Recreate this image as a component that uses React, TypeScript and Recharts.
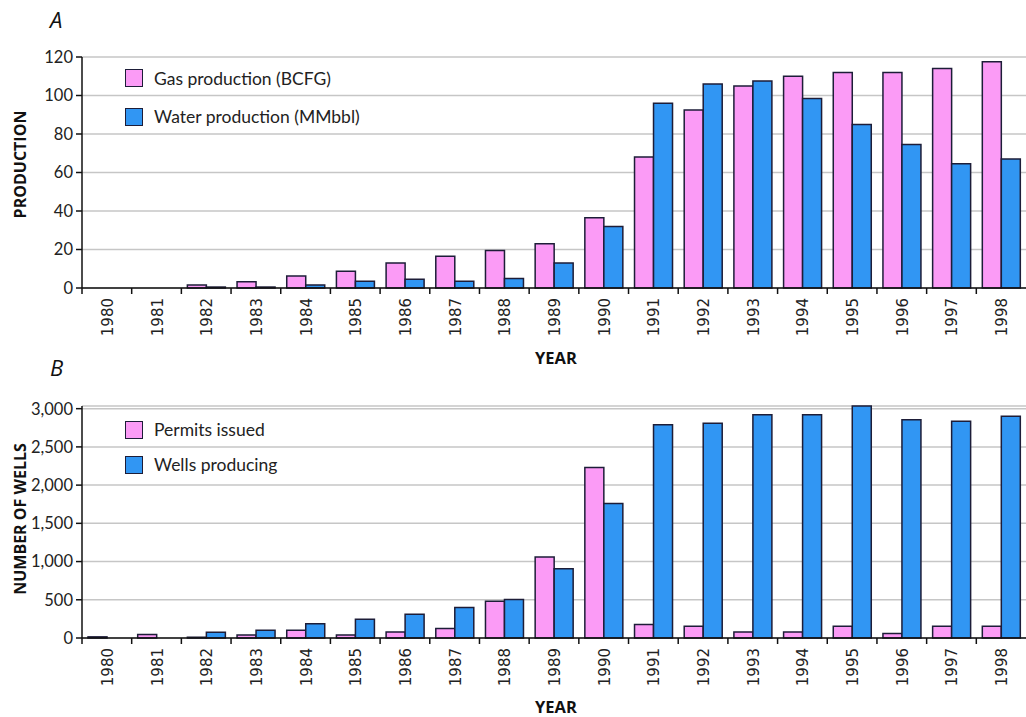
import { BarChart, Bar, XAxis, YAxis, CartesianGrid, Legend } from "recharts";

const years = [
  "1980", "1981", "1982", "1983", "1984", "1985", "1986", "1987", "1988", "1989",
  "1990", "1991", "1992", "1993", "1994", "1995", "1996", "1997", "1998",
];

// Panel A
const gasProduction = [0, 0, 1.5, 3.3, 6.2, 8.7, 13, 16.5, 19.5, 23, 36.5, 68, 92.5, 105, 110, 112, 112, 114, 117.5];
const waterProduction = [0, 0, 0.5, 0.5, 1.6, 3.5, 4.5, 3.5, 5, 13, 32, 96, 106, 107.5, 98.5, 85, 74.5, 64.5, 67];
const productionTicks = [0, 20, 40, 60, 80, 100, 120];

// Panel B
const permitsIssued = [15, 45, 10, 40, 100, 40, 80, 125, 480, 1060, 2230, 175, 155, 80, 80, 155, 60, 155, 155];
const wellsProducing = [0, 0, 75, 100, 185, 245, 310, 400, 505, 905, 1760, 2790, 2810, 2920, 2920, 3035, 2855, 2835, 2900];
const wellTicks = [0, 500, 1000, 1500, 2000, 2500, 3000];

const productionData = years.map((year, i) => ({ year, gas: gasProduction[i], water: waterProduction[i] }));
const wellData = years.map((year, i) => ({ year, permits: permitsIssued[i], wells: wellsProducing[i] }));

const W = 1026;
const PLOT_LEFT = 82;
const BAND = (W - PLOT_LEFT) / years.length;
const PINK = "#fb9bf6";
const BLUE = "#3196f3";
const EDGE = "#1d1d38";
const SANS = "Lato, 'Open Sans', sans-serif";

const YearTick = ({ x, y, payload }: any) => (
  <g>
    <line x1={x - BAND / 2} x2={x - BAND / 2} y1={y} y2={y + 6} stroke="#111" strokeWidth={1.5} />
    <text
      x={x + 1}
      y={y + 10}
      transform={`rotate(-90 ${x + 1} ${y + 10})`}
      textAnchor="end"
      dominantBaseline="central"
      fontFamily="'DejaVu Sans', sans-serif"
      fontSize={15}
      fill="#222"
    >
      {payload.value}
    </text>
  </g>
);

const yTitle = (text: string, shift: number) => ({ viewBox }: any) => {
  const cx = 20;
  const cy = viewBox.y + viewBox.height / 2 + shift;
  return (
    <text
      x={cx}
      y={cy}
      transform={`rotate(-90 ${cx} ${cy})`}
      textAnchor="middle"
      dominantBaseline="central"
      fontFamily="'Open Sans', sans-serif"
      fontWeight={700}
      fontSize={16}
      fill="#111"
    >
      {text}
    </text>
  );
};

const xTitle = (dy: number) => ({ viewBox }: any) => (
  <text
    x={556}
    y={viewBox.y + dy}
    textAnchor="middle"
    dominantBaseline="central"
    fontFamily="'Open Sans', sans-serif"
    fontWeight={700}
    fontSize={16.5}
    fill="#111"
  >
    YEAR
  </text>
);

const legendContent = (rowHeight: number) => ({ payload }: any) => (
  <div>
    {(payload || []).map((entry: any) => (
      <div key={entry.value} style={{ display: "flex", alignItems: "center", height: rowHeight }}>
        <span
          style={{
            width: 16,
            height: 16,
            background: entry.color,
            border: `1.5px solid ${EDGE}`,
            display: "inline-block",
          }}
        />
        <span style={{ marginLeft: 11, fontFamily: SANS, fontSize: 17.5, color: "#222", whiteSpace: "nowrap" }}>
          {entry.value}
        </span>
      </div>
    ))}
  </div>
);

const yTickStyle = { fontFamily: SANS, fontSize: 16.5, fill: "#222" };

const Panel = ({ letter, top }: { letter: string; top: number }) => (
  <div
    style={{
      position: "absolute",
      left: 50,
      top,
      fontFamily: "'Open Sans', sans-serif",
      fontStyle: "italic",
      fontSize: 22,
      color: "#111",
    }}
  >
    {letter}
  </div>
);

export default function App() {
  return (
    <div style={{ position: "absolute", left: 0, top: 0, width: W, height: 717, overflow: "hidden", background: "#fff" }}>
      <Panel letter="A" top={4} />
      <Panel letter="B" top={352} />

      {/* A: production */}
      <div style={{ position: "absolute", left: 0, top: 0 }}>
        <BarChart width={W} height={370} data={productionData} margin={{ top: 57, right: 0, left: 22, bottom: 0 }} barGap={0} barSize={19}>
          <CartesianGrid vertical={false} stroke="#c6c6c6" strokeWidth={1.5} />
          <XAxis
            dataKey="year"
            interval={0}
            height={82}
            tickLine={false}
            tickSize={0}
            tickMargin={0}
            axisLine={{ stroke: "#111", strokeWidth: 1.5 }}
            tick={<YearTick />}
            label={{ value: "YEAR", content: xTitle(69) }}
          />
          <YAxis
            width={60}
            domain={[0, 120]}
            ticks={productionTicks}
            interval={0}
            tickSize={6}
            tickMargin={3}
            tick={yTickStyle}
            tickLine={{ stroke: "#111", strokeWidth: 1.5 }}
            axisLine={{ stroke: "#111", strokeWidth: 1.5 }}
            label={{ value: "PRODUCTION", content: yTitle("PRODUCTION", -8) }}
          />
          <Legend
            layout="vertical"
            align="center"
            verticalAlign="middle"
            wrapperStyle={{ left: 125, top: 59, width: "auto" }}
            content={legendContent(38.5)}
          />
          <Bar dataKey="gas" name="Gas production (BCFG)" fill={PINK} stroke={EDGE} strokeWidth={1.5} isAnimationActive={false} />
          <Bar dataKey="water" name="Water production (MMbbl)" fill={BLUE} stroke={EDGE} strokeWidth={1.5} isAnimationActive={false} />
        </BarChart>
      </div>

      {/* B: wells */}
      <div style={{ position: "absolute", left: 0, top: 370 }}>
        <BarChart width={W} height={347} data={wellData} margin={{ top: 36, right: 0, left: 22, bottom: 0 }} barGap={0} barSize={19}>
          <CartesianGrid vertical={false} stroke="#c6c6c6" strokeWidth={1.5} />
          <XAxis
            dataKey="year"
            interval={0}
            height={79}
            tickLine={false}
            tickSize={0}
            tickMargin={0}
            axisLine={{ stroke: "#111", strokeWidth: 1.5 }}
            tick={<YearTick />}
            label={{ value: "YEAR", content: xTitle(68) }}
          />
          <YAxis
            width={60}
            domain={[0, 3000]}
            ticks={wellTicks}
            interval={0}
            tickSize={6}
            tickMargin={3}
            tick={yTickStyle}
            tickFormatter={(v: number) => v.toLocaleString("en-US")}
            tickLine={{ stroke: "#111", strokeWidth: 1.5 }}
            axisLine={{ stroke: "#111", strokeWidth: 1.5 }}
            label={{ value: "NUMBER OF WELLS", content: yTitle("NUMBER OF WELLS", -3) }}
          />
          <Legend
            layout="vertical"
            align="center"
            verticalAlign="middle"
            wrapperStyle={{ left: 125, top: 42, width: "auto" }}
            content={legendContent(35)}
          />
          <Bar dataKey="permits" name="Permits issued" fill={PINK} stroke={EDGE} strokeWidth={1.5} isAnimationActive={false} />
          <Bar dataKey="wells" name="Wells producing" fill={BLUE} stroke={EDGE} strokeWidth={1.5} isAnimationActive={false} />
        </BarChart>
      </div>
    </div>
  );
}
